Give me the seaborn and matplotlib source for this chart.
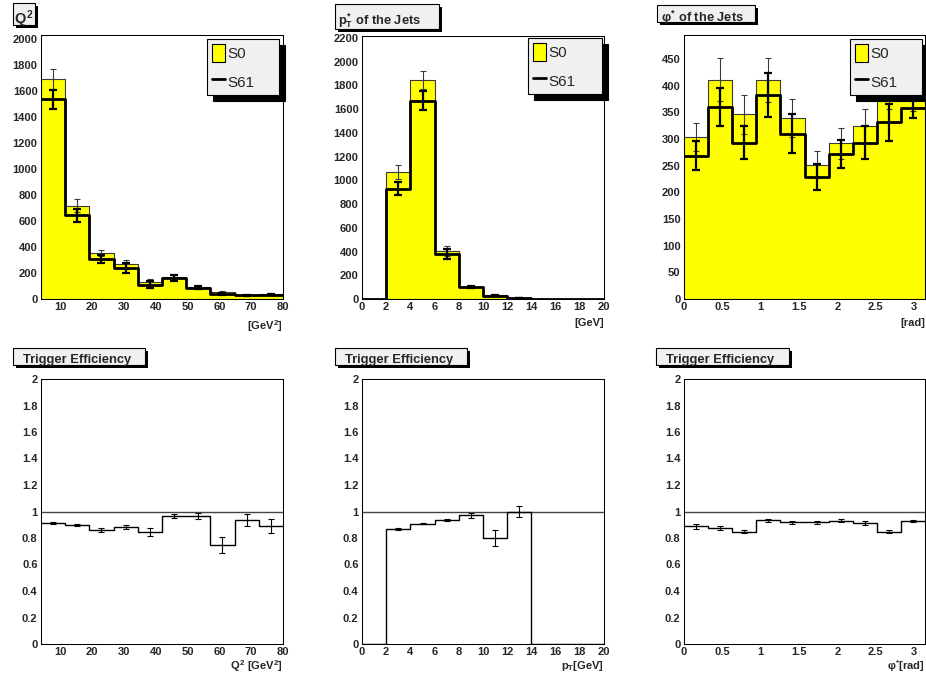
import numpy as np
import matplotlib
matplotlib.use("Agg")
import matplotlib.pyplot as plt
import seaborn as sns
from matplotlib.ticker import AutoMinorLocator, MultipleLocator, FuncFormatter
from matplotlib.patches import Patch, Rectangle
from matplotlib.lines import Line2D

# ---------------- data ----------------
q2_edges = [4.0, 11.6, 19.2, 26.8, 34.4, 42.0, 49.6, 57.2, 64.8, 72.4, 80.0]
q2_s0 = [1692, 720, 354, 266, 130, 166, 90, 52, 30, 37]
q2_s0_err = [78, 52, 21, 32, 21, 18, 12, 8, 6, 7]
q2_s61 = [1538, 644, 306, 236, 110, 160, 87, 39, 28, 33]
q2_s61_err = [74, 48, 32, 38, 26, 23, 13, 7, 5, 5]
q2_eff = [0.912, 0.897, 0.864, 0.884, 0.846, 0.965, 0.965, 0.748, 0.934, 0.889]
q2_eff_err = [0.006, 0.008, 0.015, 0.016, 0.030, 0.016, 0.020, 0.063, 0.044, 0.053]

pt_edges = [0, 2, 4, 6, 8, 10, 12, 14, 16, 18, 20]
pt_s0 = [0, 1070, 1844, 408, 103, 35, 8, 0, 0, 0]
pt_s0_err = [0, 61, 78, 42, 10, 6, 3, 0, 0, 0]
pt_s61 = [0, 930, 1670, 380, 100, 28, 8, 0, 0, 0]
pt_s61_err = [0, 57, 81, 40, 10, 5, 3, 0, 0, 0]
pt_eff = [0, 0.869, 0.907, 0.937, 0.970, 0.800, 1.000, 0, 0, 0]
pt_eff_err = [0, 0.007, 0.004, 0.010, 0.017, 0.062, 0.045, 0, 0, 0]

phi_edges = list(np.linspace(0, np.pi, 11))
phi_s0 = [304, 411, 346, 411, 339, 252, 292, 324, 392, 388]
phi_s0_err = [26, 40, 36, 41, 36, 25, 29, 32, 36, 36]
phi_s61 = [269, 360, 293, 383, 310, 229, 272, 293, 331, 359]
phi_s61_err = [27, 36, 31, 41, 37, 25, 27, 31, 35, 20]
phi_eff = [0.887, 0.874, 0.849, 0.934, 0.917, 0.917, 0.932, 0.912, 0.849, 0.929]
phi_eff_err = [0.018, 0.015, 0.015, 0.010, 0.013, 0.013, 0.010, 0.013, 0.015, 0.010]

# ---------------- style ----------------
sns.set_style("white")
plt.rcParams["font.family"] = ["Liberation Sans", "DejaVu Sans"]
plt.rcParams["font.weight"] = "bold"
plt.rcParams["mathtext.fontset"] = "custom"
plt.rcParams["mathtext.rm"] = "Liberation Sans:bold"
plt.rcParams["mathtext.it"] = "Liberation Sans:bold"
plt.rcParams["mathtext.bf"] = "Liberation Sans:bold"
plt.rcParams["mathtext.sf"] = "Liberation Sans:bold"
plt.rcParams["axes.linewidth"] = 0.75
plt.rcParams["axes.edgecolor"] = "black"

YELLOW = "#ffff00"
BOXGREY = "#f0f0f0"
TICKFS = 8
W, H = 926, 680
fig = plt.figure(figsize=(W / 100, H / 100), dpi=100)
fig.patch.set_facecolor("white")


def add_ax(l, r, t, b):
    return fig.add_axes([l / W, 1 - b / H, (r - l) / W, (b - t) / H])


def title_box(x0, y0, x1, y1, text, tx, ty, fs):
    sh = 3
    fig.patches.append(Rectangle(((x0 + sh) / W, 1 - (y1 + sh) / H), (x1 - x0) / W, (y1 - y0) / H,
                                 transform=fig.transFigure, facecolor="black", edgecolor="none", zorder=1))
    fig.patches.append(Rectangle((x0 / W, 1 - y1 / H), (x1 - x0) / W, (y1 - y0) / H,
                                 transform=fig.transFigure, facecolor=BOXGREY, edgecolor="black",
                                 linewidth=0.8, zorder=2))
    fig.text(tx / W, 1 - ty / H, text, fontsize=fs, fontweight="bold", ha="left", va="baseline", zorder=3)


fmt = FuncFormatter(lambda v, p: f"{v:g}")


def style_axes(ax, xlim, ylim, xmaj, xminor_n, ymaj, yminor_n, xlabel, label_y):
    ax.set_xlim(*xlim)
    ax.set_ylim(*ylim)
    ax.xaxis.set_major_locator(MultipleLocator(xmaj))
    ax.xaxis.set_minor_locator(AutoMinorLocator(xminor_n))
    ax.yaxis.set_major_locator(MultipleLocator(ymaj))
    ax.yaxis.set_minor_locator(AutoMinorLocator(yminor_n))
    ax.xaxis.set_major_formatter(fmt)
    ax.yaxis.set_major_formatter(fmt)
    ax.tick_params(which="both", direction="in", top=False, right=False, width=0.75, color="black",
                   labelsize=TICKFS, pad=2.5)
    ax.tick_params(which="major", length=5.8)
    ax.tick_params(which="minor", length=2.8)
    for lab in ax.get_xticklabels() + ax.get_yticklabels():
        lab.set_fontweight("bold")
    for s in ax.spines.values():
        s.set_visible(True)
        s.set_color("black")
        s.set_linewidth(0.75)
    ax.set_xlabel(xlabel, fontsize=TICKFS, fontweight="bold")
    ax.xaxis.label.set_ha("right")
    ax.xaxis.label.set_va("top")
    ax.xaxis.set_label_coords(1.0, label_y)
    ax.set_ylabel("")
    ax.set_facecolor("white")


def centers_of(edges):
    e = np.asarray(edges, dtype=float)
    return (e[:-1] + e[1:]) / 2


def draw_hist_pair(ax, edges, s0, s0e, s61, s61e):
    c = centers_of(edges)
    sns.histplot(x=c, weights=s0, bins=edges, element="step", fill=True, ax=ax,
                 color=YELLOW, alpha=1, edgecolor="#3a3a3a", linewidth=0.8, zorder=1)
    s0a, s0ea = np.asarray(s0), np.asarray(s0e)
    m = s0a > 0
    ax.errorbar(c[m], s0a[m], yerr=s0ea[m], fmt="none", ecolor="#3a3a3a", elinewidth=0.8,
                capsize=2.2, capthick=0.8, zorder=2)
    sns.histplot(x=c, weights=s61, bins=edges, element="step", fill=False, ax=ax,
                 color="black", linewidth=2.0, zorder=3)
    s61a, s61ea = np.asarray(s61), np.asarray(s61e)
    m = s61a > 0
    ax.errorbar(c[m], s61a[m], yerr=s61ea[m], fmt="none", ecolor="black", elinewidth=1.6,
                capsize=2.6, capthick=1.6, zorder=4)


def draw_eff(ax, edges, eff, effe):
    c = centers_of(edges)
    ax.axhline(1.0, color="#444444", linewidth=1.0, zorder=1)
    sns.histplot(x=c, weights=eff, bins=edges, element="step", fill=False, ax=ax,
                 color="black", linewidth=1.0, zorder=2)
    ea, eea = np.asarray(eff), np.asarray(effe)
    m = ea > 0
    ax.errorbar(c[m], ea[m], yerr=eea[m], fmt="none", ecolor="black", elinewidth=0.8,
                capsize=2.0, capthick=0.8, zorder=3)


def add_legend(ax, x0, x1, y0):
    handles = [Patch(facecolor=YELLOW, edgecolor="black", linewidth=0.8),
               Line2D([], [], color="black", linewidth=2.0)]
    leg = ax.legend(handles, ["S0", "S61"], loc="upper left",
                    bbox_to_anchor=(x0 / W, 1 - y0 / H, (x1 - x0) / W, 0),
                    bbox_transform=fig.transFigure, mode="expand",
                    prop={"size": 11, "weight": "normal"}, frameon=True, fancybox=False,
                    framealpha=1, facecolor=BOXGREY, edgecolor="black",
                    shadow={"color": "black", "alpha": 1, "ox": 4, "oy": -4},
                    handlelength=0.85, handleheight=1.45, handletextpad=0.2,
                    borderpad=0.3, labelspacing=0.7, borderaxespad=0)
    leg.get_frame().set_linewidth(0.8)
    leg.set_zorder(10)


# ---------------- top row ----------------
ax1 = add_ax(41, 283, 35, 299)
draw_hist_pair(ax1, q2_edges, q2_s0, q2_s0_err, q2_s61, q2_s61_err)
style_axes(ax1, (4, 80), (0, 2033), 10, 5, 200, 4, r"[GeV$^{2}$]", -0.072)
add_legend(ax1, 207, 279, 39)
title_box(13, 3, 35, 25, r"$Q^{2}$", 14.5, 23.5, 10.5)

ax2 = add_ax(362, 604, 36, 299)
draw_hist_pair(ax2, pt_edges, pt_s0, pt_s0_err, pt_s61, pt_s61_err)
style_axes(ax2, (0, 20), (0, 2215), 2, 4, 200, 4, "[GeV]", -0.072)
add_legend(ax2, 528, 602, 38)
title_box(335, 4, 439, 29, r"$p^{*}_{T}$ of the Jets", 338, 24.5, 9.3)

ax3 = add_ax(684, 925, 35, 299)
draw_hist_pair(ax3, phi_edges, phi_s0, phi_s0_err, phi_s61, phi_s61_err)
style_axes(ax3, (0, np.pi), (0, 495), 0.5, 5, 50, 4, "[rad]", -0.072)
add_legend(ax3, 850, 922, 39)
title_box(657, 5, 755, 22, r"$φ^{*}$ of the Jets", 661, 22, 9.3)

# ---------------- bottom row ----------------
ax4 = add_ax(41, 283, 379, 644)
draw_eff(ax4, q2_edges, q2_eff, q2_eff_err)
style_axes(ax4, (4, 80), (0, 2), 10, 5, 0.2, 4, r"$Q^{2}$ [GeV$^{2}$]", -0.055)
title_box(13, 348, 145, 365, "Trigger Efficiency", 23, 363.5, 9.3)

ax5 = add_ax(362, 604, 379, 644)
draw_eff(ax5, pt_edges, pt_eff, pt_eff_err)
style_axes(ax5, (0, 20), (0, 2), 2, 4, 0.2, 4, r"$p_{T}$[GeV]", -0.055)
title_box(335, 348, 467, 365, "Trigger Efficiency", 345, 363.5, 9.3)

ax6 = add_ax(684, 925, 379, 644)
draw_eff(ax6, phi_edges, phi_eff, phi_eff_err)
style_axes(ax6, (0, np.pi), (0, 2), 0.5, 5, 0.2, 4, r"$φ^{*}$[rad]", -0.055)
title_box(656, 348, 789, 365, "Trigger Efficiency", 666, 363.5, 9.3)

for ax in (ax1, ax2, ax3, ax4, ax5, ax6):
    ax.set_ylabel("")

fig.savefig("out.png", dpi=100)
